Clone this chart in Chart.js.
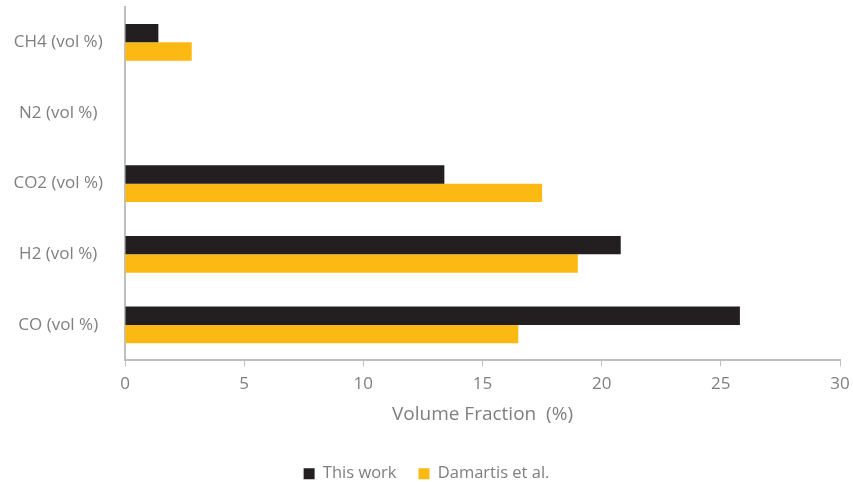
<!DOCTYPE html>
<html>
<head>
<meta charset="utf-8">
<script src="https://cdn.jsdelivr.net/npm/chart.js@4/dist/chart.umd.min.js"></script>
<style>
	html, body { margin: 0; padding: 0; background: #fff; }
	#wrap { width: 853px; height: 482px; }
</style>
</head>
<body>
<div id="wrap"><canvas id="chart"></canvas></div>
<script>
const categories = ['CH4 (vol %)', 'N2 (vol %)', 'CO2 (vol %)', 'H2 (vol %)', 'CO (vol %)']
const thisWork = [1.4, 0, 13.4, 20.8, 25.8]
const damartis = [2.8, 0, 17.5, 19.0, 16.5]
const xTicks = [0, 5, 10, 15, 20, 25, 30]

const textColor = '#7f7f7f'
const axisColor = '#bfbfbf'
const font = { family: 'Open Sans', size: 17 }

new Chart(document.getElementById('chart'), {
	type: 'bar',
	data: {
		labels: categories,
		datasets: [
			{ label: 'This work', data: thisWork, backgroundColor: '#231f20' },
			{ label: 'Damartis et al.', data: damartis, backgroundColor: '#fdb913' },
		],
	},
	options: {
		indexAxis: 'y',
		responsive: true,
		maintainAspectRatio: false,
		animation: false,
		layout: { padding: { top: 7, right: 0, left: 0, bottom: -10 } },
		datasets: { bar: { barPercentage: 1, categoryPercentage: 0.52 } },
		scales: {
			x: {
				min: 0,
				max: 30,
				afterBuildTicks: axis => { axis.ticks = xTicks.map(v => ({ value: v })) },
				afterFit: axis => { axis.paddingRight = 13 }, // keep the right end at 30 where the original had it
				grid: { drawOnChartArea: false, color: axisColor, tickLength: 6 },
				border: { color: axisColor, width: 2 },
				ticks: { color: textColor, font, padding: 8 },
				title: {
					display: true,
					text: 'Volume Fraction  (%)',
					color: textColor,
					font: { ...font, size: 19 },
					padding: { top: 0, bottom: 18 },
				},
			},
			y: {
				afterFit: axis => {
					axis.width = 125
					axis.paddingTop = 0
					axis.paddingBottom = 0
				},
				grid: { display: false },
				border: { color: axisColor, width: 2 },
				ticks: { color: textColor, font, crossAlign: 'center', padding: 14 },
			},
		},
		plugins: {
			legend: {
				position: 'bottom',
				labels: { color: textColor, font: { ...font, size: 16.5 }, boxWidth: 11, boxHeight: 11, padding: 22 },
			},
			tooltip: { enabled: false },
		},
	},
})
</script>
</body>
</html>
